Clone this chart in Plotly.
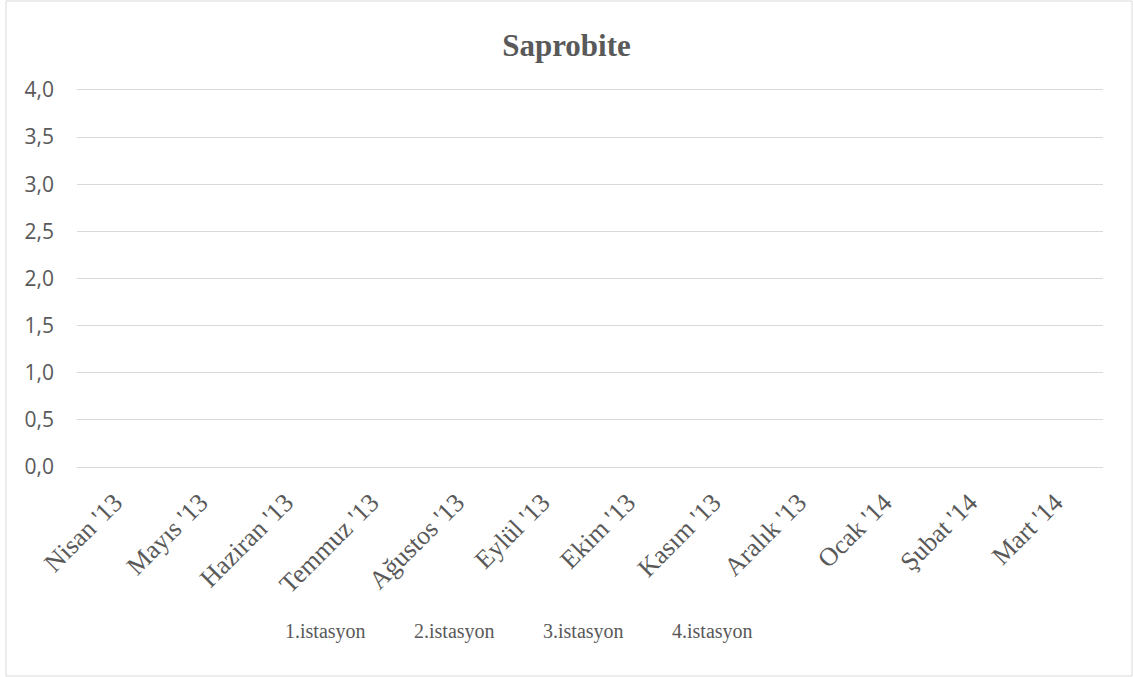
import plotly.graph_objects as go

months = ["Nisan '13", "Mayıs '13", "Haziran '13", "Temmuz '13", "Ağustos '13", "Eylül '13",
          "Ekim '13", "Kasım '13", "Aralık '13", "Ocak '14", "Şubat '14", "Mart '14"]
series_names = ["1.istasyon", "2.istasyon", "3.istasyon", "4.istasyon"]
# No values are drawn in the reference chart (all series empty)
istasyon1 = [None] * 12
istasyon2 = [None] * 12
istasyon3 = [None] * 12
istasyon4 = [None] * 12
series_values = [istasyon1, istasyon2, istasyon3, istasyon4]
y_ticks = [0.0, 0.5, 1.0, 1.5, 2.0, 2.5, 3.0, 3.5, 4.0]

W, H = 1133, 677
L, R, T, B = 77, 30, 88, 208
pw = W - L - R
ph = H - T - B
y0 = H - B  # pixel row of paper y=0

fig = go.Figure()
for name, vals in zip(series_names, series_values):
    fig.add_trace(go.Scatter(x=months, y=vals, name=name, mode="lines",
                             line=dict(color="rgba(0,0,0,0)", width=0),
                             showlegend=True))

grey = "#595959"
fig.update_layout(
    width=W, height=H,
    margin=dict(l=L, r=R, t=T, b=B),
    paper_bgcolor="white", plot_bgcolor="white",
    separators=",.",
    title=dict(text="<b>Saprobite</b>", x=0.5, xref="container", xanchor="center",
               y=1 - 45 / H, yref="container", yanchor="middle",
               font=dict(family="Liberation Serif", size=31, color=grey)),
    xaxis=dict(type="category", categoryorder="array", categoryarray=months,
               range=[-0.5, 11.5], tickvals=months, tickangle=-45,
               showgrid=False, zeroline=False, showline=False, ticks="",
               ticklabelstandoff=12, ticklabelshift=-5,
               tickfont=dict(family="Liberation Serif", size=26, color=grey)),
    yaxis=dict(range=[-0.02, 4.02], tickvals=y_ticks, tickformat=".1f",
               showgrid=True, gridcolor="#d9d9d9", gridwidth=1,
               zeroline=False, showline=False, ticks="",
               ticklabelstandoff=22,
               tickfont=dict(family="Open Sans", size=21, color=grey)),
    legend=dict(orientation="h", x=(245 - L) / pw, xanchor="left",
                y=(y0 - 630) / ph, yanchor="middle",
                entrywidth=84, entrywidthmode="pixels",
                font=dict(family="Liberation Serif", size=20, color=grey),
                bgcolor="rgba(0,0,0,0)"),
    showlegend=True,
)

# chart outer border
fig.add_shape(type="rect", xref="paper", yref="paper",
              x0=(6 - L) / pw, x1=(1132 - L) / pw,
              y0=(y0 - 676) / ph, y1=(y0 - 1) / ph,
              line=dict(color="#d9d9d9", width=1), fillcolor="rgba(0,0,0,0)", layer="below")

fig.write_html("out.html")
